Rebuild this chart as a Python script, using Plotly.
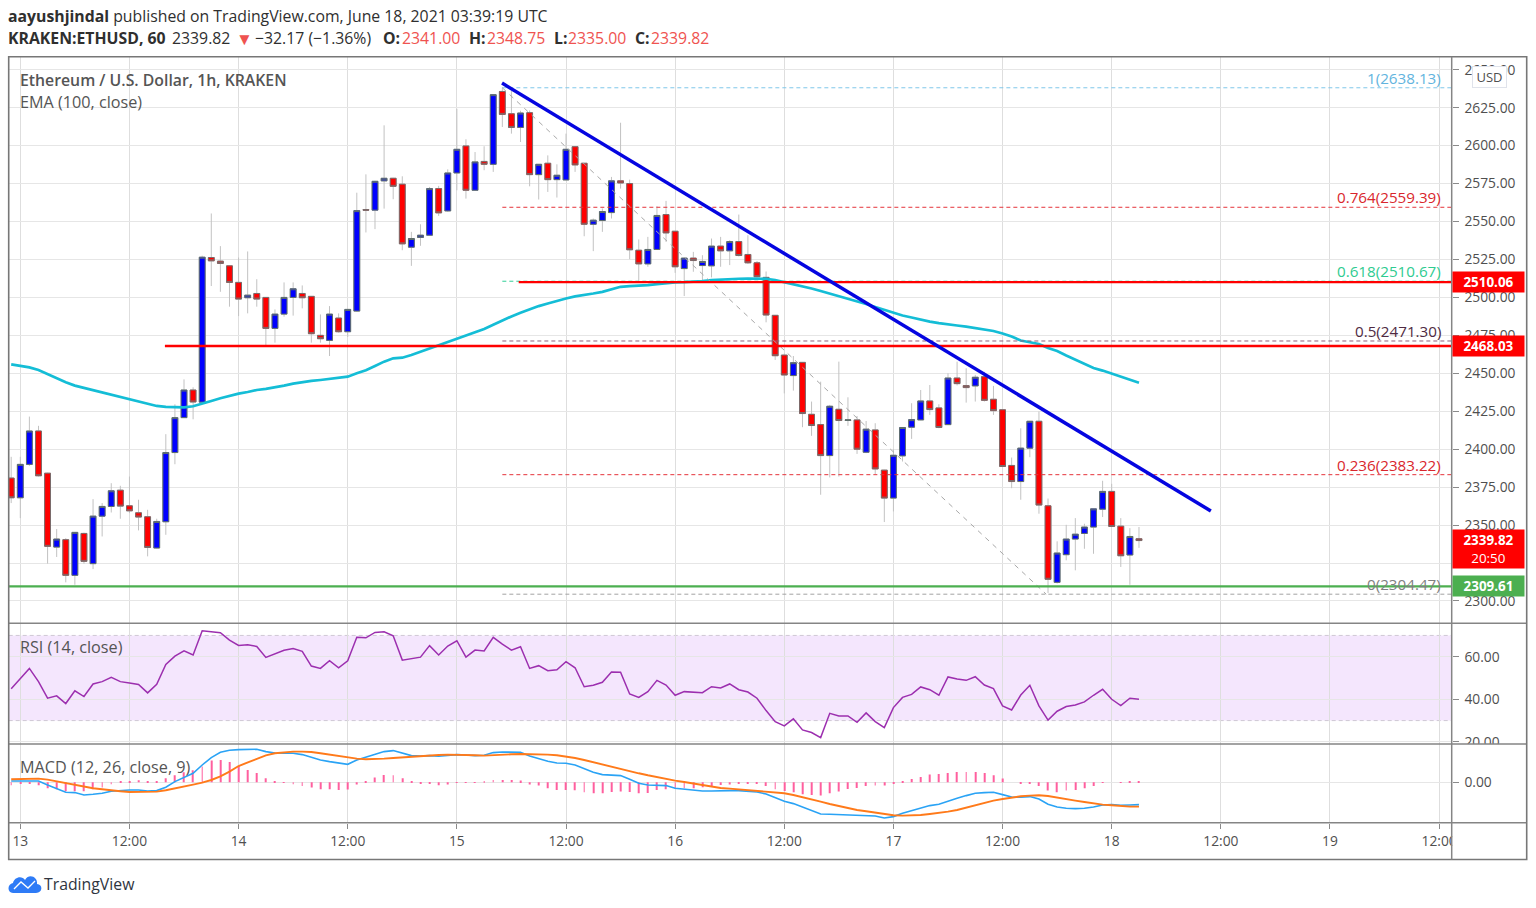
import pandas as pd
import plotly.graph_objects as go

# ---------- data (hourly, 12 Jun 23:00 -> 18 Jun 03:00) ----------
opens = [2381,2368,2390,2412,2384.2,2335.5,2340.4,2316.9,2344.5,2324.6,2355.9,2362.3,2373,2362.7,2358.1,2355.5,2334.9,2352.2,2397.8,2420.8,2439,
 2431,2526.3,2523.9,2520.8,2509.9,2499.8,2502.6,2500,2479.6,2489,2500,2502.6,2500.7,2475,2471.7,2486.4,2477.4,2491,2557.9,2557.5,2576.8,2578.5,
 2574.6,2533.1,2539.5,2541,2571.7,2557,2582,2599.8,2570.6,2589.6,2587.7,2635.7,2621,2612,2621.7,2580.9,2588.4,2577.6,2577.4,2599.3,2588.4,2548.2,2550.7,
 2555.9,2576.8,2575,2531.1,2522.1,2531.6,2554.6,2543.6,2519,2525.9,2521,2520.8,2533.8,2530.7,2536.8,2528.3,2522.8,2513.2,2488.2,2462,2448.5,2457.2,2423,
 2416.2,2395.8,2426.3,2419,2419.3,2398,2412.7,2386.2,2367.8,2395.6,2414.5,2419.3,2431.8,2427.2,2416.2,2446.9,2441.9,2441.7,2447.8,2432.9,2426,2389.3,
 2378.7,2400.7,2418.4,2362.7,2312.3,2330.5,2340.8,2344.5,2348.7,2360.5,2372.2,2349.3,2330.3,2341]
highs = [2395,2395,2421.5,2415.4,2384.5,2347.4,2341.4,2345.2,2345,2367.1,2364.5,2377.6,2375.9,2382,2366.7,2360.1,2354.2,2409.9,2429.6,2446,2440.8,
 2527.5,2555.3,2533.8,2521,2526.3,2530.3,2512,2500.2,2492.1,2509.9,2509.9,2507.9,2500.9,2488.8,2494.3,2489.5,2492.5,2569,2581.1,2576.8,2613.4,2578.8,
 2579.8,2543.2,2548.2,2572.8,2573.5,2584.4,2624.3,2604.2,2595.8,2599.6,2633.8,2638.3,2636,2623,2623.2,2587.9,2593.6,2587.7,2607.9,2599.5,2588.6,2552,2558.6,
 2579.4,2615.1,2577.6,2538.2,2539.9,2560.1,2563.6,2543.8,2526.3,2530,2527.8,2538.8,2539.9,2537.7,2554.6,2541,2524,2517.1,2488.4,2463,2461.4,2457.4,2431.4,
 2444.5,2429.2,2457.7,2434.2,2421.9,2418.6,2417.1,2386.4,2400,2414.5,2430.3,2439,2442.3,2429.6,2450,2457.7,2453.3,2449,2451,2441.7,2426.2,2394.5,
 2413.8,2418.6,2424.8,2367.5,2339.3,2350.2,2354.6,2350.9,2360.9,2379.2,2377.2,2354.6,2348,2348.75]
lows = [2364.5,2354.6,2389,2382,2324.6,2329,2312.3,2310.7,2324.6,2321,2342.5,2358.3,2354.2,2357.9,2346.5,2329.4,2334.7,2343.6,2390.1,2420.6,2419.7,
 2430,2507.5,2503.7,2493.9,2487.7,2489.5,2493.9,2468.6,2470.2,2487.3,2488,2492.8,2470.2,2470.2,2461.4,2476.8,2474,2490.5,2542.8,2545,2558.5,2564.7,
 2531.1,2520.8,2534,2540.8,2553.7,2556.4,2570.6,2565.1,2570.4,2583.8,2582.7,2612.3,2607.9,2602.4,2573.2,2564.5,2569.5,2565.8,2577.2,2582.7,2540.3,2530.5,2543.2,
 2552,2571.7,2525.2,2511,2520.2,2531.4,2536.6,2516.2,2500.9,2516.9,2511.4,2513.2,2520.2,2521.3,2527,2522,2513,2483.6,2458.8,2436.8,2438.6,2414.5,2408.8,
 2370,2381.4,2382,2415.4,2396.9,2397.4,2383.6,2352,2359,2391.9,2406.8,2419.1,2422.6,2413.8,2416,2442,2430.7,2431.4,2431.4,2422.6,2388.4,2374.3,
 2366.7,2394.7,2357.5,2305.3,2311.5,2326.8,2320.2,2334.4,2331.1,2355.3,2349,2322.4,2310.7,2335]
closes = [2368,2390,2412,2382.5,2336,2340.8,2316.9,2345.2,2326.1,2355.9,2362.3,2372.6,2362.5,2359.4,2355.3,2335.3,2352.4,2397.8,2420.8,2439,2431.1,
 2526.5,2524.1,2522.4,2509.9,2498.9,2501.5,2498.9,2479.6,2489,2500,2505.7,2499.8,2476.1,2472.8,2489,2477.4,2492.1,2557.2,2557.5,2576.5,2578.5,2573.2,
 2535.3,2538.8,2541,2571.7,2555.7,2582,2597.6,2570.6,2589.3,2587.7,2633.6,2620.6,2612,2621.5,2580.9,2587.7,2577.6,2580.5,2597.6,2587.3,2548.2,2550.9,2556.6,
 2576.8,2575.4,2531.4,2522.1,2531.6,2554,2542.5,2520.2,2525.9,2524.3,2523.7,2533.8,2530.7,2536.8,2527.6,2522.8,2513.6,2488.4,2461.6,2448.9,2457,2423.5,2415.6,
 2395.8,2428.3,2418.9,2419.3,2400,2413.2,2387,2367.8,2396,2414.3,2419.5,2431.8,2426.1,2414.3,2446.9,2443.2,2440.6,2447.4,2432.2,2425.4,2388.6,2378.7,
 2400.7,2418.4,2363.2,2314.3,2331.6,2340.8,2344,2348.7,2360.7,2372.2,2349.1,2329.8,2342.5,2339.82]
ema100 = [2455.9,2454.8,2453.9,2452.2,2449.6,2446.5,2444.1,2441.9,2440.4,2438.8,2437.5,2436.2,2434.6,2432.9,2431.4,2429.8,2428.5,2427.9,2427.6,2427.6,2428.3,
 2430.3,2431.8,2433.6,2435.3,2436.6,2437.7,2439,2439.7,2440.6,2441.9,2443.2,2444.3,2445,2445.6,2446.3,2447.1,2447.8,2450,2452,2454.8,2457.7,2459.9,
 2460.3,2462.1,2464.3,2466.2,2468.2,2470.6,2473,2475,2477,2479.2,2482,2484.9,2487.5,2489.9,2492.3,2494.3,2496,2497.8,2499.3,2500.7,2501.5,2502.6,2503.7,
 2505.2,2507,2507.5,2507.7,2508.1,2508.8,2509.4,2509.9,2510.1,2510.3,2510.8,2511.4,2511.8,2512.1,2512.3,2512.4,2512.5,2512.3,2511.4,2510.1,2508.3,2507.2,2505.9,
 2504.2,2502.6,2500.9,2499.3,2497.6,2495.7,2493.7,2491.7,2489.7,2488.1,2486.8,2485.4,2484.1,2483.1,2482.1,2481.5,2480.8,2479.8,2478.9,2477.9,2476.2,2474.2,
 2471.6,2470.6,2469.3,2466.7,2464.7,2461.7,2459.1,2456.5,2453.5,2451.8,2449.9,2447.9,2445.9,2443.8]
rsi = [45,49.8,54.5,48.3,40.5,41.6,38,44,41.3,47.2,48.3,50.3,48.3,47.7,47,43,47,56.4,60.3,62.8,60.8,
 72.2,71.7,71.3,67.8,65.3,65.6,64.8,59.7,61.3,63,63.9,62.5,55.6,54.5,58.1,54.8,58.1,69.1,68.9,71.4,71.7,69.8,
 58.4,59.2,59.8,65.2,60.8,65,67.5,59.8,63.1,62.7,69.1,65.9,63.1,64.7,54.5,55.8,53.4,53.9,57.7,54.8,45.9,46.6,48,
 52.8,52.7,42.5,40.9,43.6,48.9,46.7,41.9,43.6,43.3,43.1,45.9,45.3,47.2,44.5,43.4,40.5,34.7,29.5,27.5,30.8,25.6,24.4,
 22,33.4,32.2,32.2,29.2,33.6,29.5,26.7,36.1,40.9,42.3,45.8,44.5,41.9,50.5,49.5,48.9,50.6,46.7,45,36.9,35,
 42,46.6,36.9,30.2,34.4,36.6,37.3,38.8,41.9,44.7,40,37,40.5,40]
macd = [1.3,1.3,1.7,1.3,-2.7,-6,-10,-10.3,-12.7,-12,-11,-9,-8,-7.7,-7.7,-8.7,-8.3,-5,0.7,5,9,
 17.3,24.7,30,32,32.7,33,33,30.7,29.3,29,29,27.7,24.7,22.3,20.7,19,18,22.3,25,28.3,30.7,31.7,
 29,26.7,26.3,26.7,26,26.7,27.7,27.3,26.7,27,29.7,30.3,30.3,30,26.3,23.7,21,19.3,19,17.3,13.3,10,7.7,
 7.3,6.7,3,-1,-2.7,-2.7,-3.3,-6,-7,-7.7,-8.7,-8.7,-8.3,-8.3,-8.3,-8.7,-9.7,-11.7,-15.7,-19,-21.3,-24.7,-28,
 -31.7,-32,-32.3,-32.3,-33.3,-33.3,-33.7,-35.7,-34.3,-31,-28.3,-25.3,-23.3,-22,-18.7,-16,-13.3,-11,-10.3,-10,-12.3,-14.7,
 -15,-14.3,-16.7,-22,-24.7,-26,-26.3,-26,-24.7,-22.7,-22.3,-23,-22.7,-22.3]
signal = [3,3.3,3.7,3.7,2.7,1,-1,-2.7,-4.3,-6,-7,-8.3,-9,-9.7,-9.7,-9.7,-9.3,-8,-6.3,-4.7,-2.3,
 -0.3,2.3,6,10.7,16.3,20,23.7,27,29,30,30.7,30.7,30.3,29,27.7,26,24.7,23.7,23,23,23.7,24.3,
 25,25.7,26.3,27.3,27.3,27.7,27.7,27.3,27,26.7,27.3,27.3,28,28.3,28.3,28,27.7,27,26,24.3,22.3,20,17.7,
 15.3,13.3,11.3,9,7,5,3.3,1.7,0.3,-1.3,-3,-4.3,-5.7,-6.3,-7,-7.7,-8.3,-9.3,-10.3,-11,-12.7,-14.7,-17,
 -19.3,-21.7,-23.7,-26,-27.7,-29,-30.3,-32,-33,-33.3,-33.3,-32.7,-31.7,-30.7,-29.3,-27.7,-25.3,-23,-20.7,-18.3,-16.7,-15.3,
 -14,-13.3,-13,-13.7,-15,-16.7,-18.3,-19.7,-21.3,-22.3,-23,-24,-24.3,-24.3]
hist = [-3,-1,-1,-3,-6,-7,-9,-9,-9,-7,-5.3,-2,0.5,1,2,1,1,4,7,10,12,
 15.7,21.7,22.3,20.3,16.3,12.3,9.3,4,1,-0.3,-2,-3.7,-5.3,-7,-7,-7.7,-7.3,-2.3,1.3,4.7,7.3,7,
 4,1.3,-1,-1.3,-3,-2.3,-0.3,-0.3,0.3,1,2.3,2.3,2.3,1.7,-2.3,-3.3,-6,-7.7,-7.7,-8,-10,-11,-11,
 -9.7,-9.3,-9.7,-11,-10.7,-7.7,-7,-6.7,-6,-6,-5,-3.7,-2.7,-2.3,-1.3,-1,-1.7,-3.7,-7,-8.7,-10,-12,-12.7,
 -13.3,-11,-9.3,-6.7,-5.7,-3.7,-3.3,-3.3,-1.3,0.7,3.3,5.3,7.7,8.3,9.3,10.3,10.3,10.3,9.3,7,3.7,0,
 -1,-1,-3.7,-8.3,-10,-8.3,-7.7,-6,-3.7,-0.3,0,0.3,1,1.3]
for series in (opens, highs, lows, closes, ema100, rsi, macd, signal, hist):
    assert len(series) == 125, len(series)

fib_ratios = ["1", "0.764", "0.618", "0.5", "0.236", "0"]
fib_prices = [2638.13, 2559.39, 2510.67, 2471.30, 2383.22, 2304.47]
fib_line_colors = ["#7fc8ea", "#e5333a", "#2fcf96", "#8e5f7c", "#e5333a", "#a3a3a3"]
fib_text_colors = ["#62b4de", "#d9262c", "#2ecb90", "#4f2a42", "#d9262c", "#808080"]
fib_start = "2021-06-15 05:00"
fib_end = "2021-06-19 14:00"
diag_x = ["2021-06-15 05:00", "2021-06-17 16:48"]
diag_y = [2638.13, 2304.47]
trend_x = ["2021-06-15 04:58", "2021-06-18 10:54"]
trend_y = [2641.2, 2359.3]
support_prices = [2510.06, 2468.03, 2309.61]
support_starts = ["2021-06-15 06:48", "2021-06-13 15:54", "2021-06-12 20:00"]
support_colors = ["#ff0000", "#ff0000", "#4caf50"]
last_price = 2339.82
countdown = "20:50"
rsi_band = [30, 70]
x_tick_times = pd.date_range("2021-06-13", periods=14, freq="12h")
x_tick_text = ["13","12:00","14","12:00","15","12:00","16","12:00","17","12:00","18","12:00","19","12:00"]
times = pd.date_range("2021-06-12 23:00", periods=125, freq="1h")

# ---------- layout helpers ----------
W, H = 1536, 908
FONT = "Open Sans"
def px(v): return v / W
def py(v): return 1 - v / H
L, R = 8.7, 1451.7
T, P1, P2, P3, B = 56.7, 623.3, 744.0, 822.7, 859.5
RIGHT = 1526.7
xrange_ = ["2021-06-12 22:43:30", "2021-06-19 13:23:00"]

fig = go.Figure()

# candles: wick layer + body layer (body has a darker border than the wick)
fig.add_trace(go.Candlestick(x=times, open=opens, high=highs, low=lows, close=closes,
    increasing=dict(line=dict(color="#c2c2c2", width=1), fillcolor="#0000ff"),
    decreasing=dict(line=dict(color="#c2c2c2", width=1), fillcolor="#ff0000"),
    whiskerwidth=0, xaxis="x", yaxis="y", hoverinfo="skip"))
body_hi = [max(o, c) for o, c in zip(opens, closes)]
body_lo = [min(o, c) for o, c in zip(opens, closes)]
fig.add_trace(go.Candlestick(x=times, open=opens, high=body_hi, low=body_lo, close=closes,
    increasing=dict(line=dict(color="#5f6f6a", width=1), fillcolor="#0000ff"),
    decreasing=dict(line=dict(color="#7a6a6a", width=1), fillcolor="#ff0000"),
    whiskerwidth=0, xaxis="x", yaxis="y", hoverinfo="skip"))
# EMA
fig.add_trace(go.Scatter(x=times, y=ema100, mode="lines", line=dict(color="#14bdd6", width=2.7),
    xaxis="x", yaxis="y", hoverinfo="skip"))
# fib levels
for price, col in zip(fib_prices, fib_line_colors):
    fig.add_trace(go.Scatter(x=[fib_start, fib_end], y=[price, price], mode="lines",
        line=dict(color=col, width=1, dash="4px,3px"), xaxis="x", yaxis="y", hoverinfo="skip"))
fig.add_trace(go.Scatter(x=diag_x, y=diag_y, mode="lines",
    line=dict(color="#a8a8a8", width=1, dash="5px,5px"), xaxis="x", yaxis="y", hoverinfo="skip"))
# horizontal supports / resistances
for price, start, col in zip(support_prices, support_starts, support_colors):
    fig.add_trace(go.Scatter(x=[start, fib_end], y=[price, price], mode="lines",
        line=dict(color=col, width=2.4), xaxis="x", yaxis="y", hoverinfo="skip"))
# trend line
fig.add_trace(go.Scatter(x=trend_x, y=trend_y, mode="lines", line=dict(color="#0505e0", width=3.5),
    xaxis="x", yaxis="y", hoverinfo="skip"))
# RSI
fig.add_trace(go.Scatter(x=times, y=rsi, mode="lines", line=dict(color="#9c2faf", width=1.5),
    xaxis="x2", yaxis="y2", hoverinfo="skip"))
# MACD
fig.add_trace(go.Bar(x=times, y=hist, width=350000, marker=dict(color="#ff5f9e", line=dict(width=0)),
    xaxis="x3", yaxis="y3", hoverinfo="skip"))
fig.add_trace(go.Scatter(x=times, y=macd, mode="lines", line=dict(color="#2aa3f5", width=1.6),
    xaxis="x3", yaxis="y3", hoverinfo="skip"))
fig.add_trace(go.Scatter(x=times, y=signal, mode="lines", line=dict(color="#ff7a1a", width=1.9),
    xaxis="x3", yaxis="y3", hoverinfo="skip"))

GRID = "#e6e6e6"
VGRID = "#dedede"
tick_font = dict(family=FONT, size=13.8, color="#4f4f4f")
def xaxis_common(**kw):
    d = dict(type="date", range=xrange_, domain=[px(L), px(R)], tickmode="array",
             tickvals=list(x_tick_times), ticktext=x_tick_text, showgrid=True, gridcolor=VGRID,
             gridwidth=1, zeroline=False, showline=False, rangeslider=dict(visible=False),
             fixedrange=True, automargin=False)
    d.update(kw)
    return d
def yaxis_common(**kw):
    d = dict(side="right", showgrid=True, gridcolor=GRID, gridwidth=1, zeroline=False, showline=False,
             ticks="outside", ticklen=6, tickcolor="#8a8a8a", tickwidth=1, tickfont=tick_font,
             ticklabelstandoff=3, fixedrange=True, automargin=False)
    d.update(kw)
    return d

shapes = []
def hline_shape(y, x0=L, x1=RIGHT, col="#858585", w=1.5):
    shapes.append(dict(type="line", xref="paper", yref="paper", x0=px(x0), x1=px(x1), y0=py(y), y1=py(y),
                       line=dict(color=col, width=w), layer="above"))
# RSI band
shapes.append(dict(type="rect", xref="paper", yref="y2", x0=px(L), x1=px(R), y0=rsi_band[0], y1=rsi_band[1],
                   fillcolor="#f4e6fd", line=dict(width=0), layer="below"))
for lvl in rsi_band:
    shapes.append(dict(type="line", xref="paper", yref="y2", x0=px(L), x1=px(R), y0=lvl, y1=lvl,
                       line=dict(color="#cfc8d4", width=1, dash="4px,3px"), layer="below"))
# masks hiding what the reference clips at pane edges
shapes.append(dict(type="rect", xref="paper", yref="paper", x0=px(R + 0.5), x1=px(RIGHT), y0=py(B), y1=py(P3 + 1),
                   fillcolor="white", line=dict(width=0), layer="above"))
shapes.append(dict(type="rect", xref="paper", yref="paper", x0=px(R + 0.5), x1=px(RIGHT), y0=py(P2 + 20), y1=py(P2),
                   fillcolor="white", line=dict(width=0), layer="above"))
# frame and separators
for y in (P1, P2, P3):
    hline_shape(y)
shapes.append(dict(type="rect", xref="paper", yref="paper", x0=px(L), x1=px(RIGHT), y0=py(B), y1=py(T),
                   line=dict(color="#777777", width=1.6), layer="above"))
shapes.append(dict(type="line", xref="paper", yref="paper", x0=px(R), x1=px(R), y0=py(B), y1=py(T),
                   line=dict(color="#858585", width=1.5), layer="above"))
# TradingView cloud logo
def P(x, y): return f"{px(x):.5f},{py(y):.5f}"
cloud = ("M " + P(13, 893) + " C " + P(7, 893) + " " + P(7, 884) + " " + P(13, 883) +
         " C " + P(14, 877) + " " + P(22, 875) + " " + P(25, 880) +
         " C " + P(29, 873) + " " + P(38, 877) + " " + P(37, 884) +
         " C " + P(43, 884) + " " + P(43, 893) + " " + P(36, 893) + " Z")
shapes.append(dict(type="path", xref="paper", yref="paper", path=cloud, fillcolor="#2e7bf6", line=dict(width=0), layer="above"))
shapes.append(dict(type="path", xref="paper", yref="paper",
                   path="M " + P(14, 889) + " L " + P(21, 882) + " L " + P(28, 888) + " L " + P(35, 881),
                   line=dict(color="white", width=1.3), layer="above"))

annotations = []
def text(x, y, s, size=14, color="#3b3b3b", xanchor="left", family=FONT, weight=None, **kw):
    f = dict(family=family, size=size, color=color)
    if weight:
        f["weight"] = weight
    d = dict(xref="paper", yref="paper", x=px(x), y=py(y), text=s, showarrow=False, xanchor=xanchor, yanchor="middle",
             font=f, align="left", borderpad=0, borderwidth=0)
    d.update(kw)
    annotations.append(d)
RD = "#ef5350"
HD = "#2f2f2f"
HS = 15.8
text(8, 15.5, "<b>aayushjindal</b> published on TradingView.com, June 18, 2021 03:39:19 UTC", size=HS, color=HD)
line2_y = 38.5
text(8, line2_y, "<b>KRAKEN:ETHUSD, 60</b>", size=HS, color=HD)
text(172, line2_y, f"{last_price}", size=HS, color=HD)
text(236, line2_y, "▼", size=17, color=RD)
text(255, line2_y, "−32.17 (−1.36%)", size=HS, color=HD)
for lx, lab, vx, val in [(383, "O:", 402, "2341.00"), (469, "H:", 487, "2348.75"),
                         (553.6, "L:", 568, "2335.00"), (635, "C:", 651, str(last_price))]:
    text(lx, line2_y, f"<b>{lab}</b>", size=HS, color=HD)
    text(vx, line2_y, val, size=HS, color=RD)
text(20, 79.5, "Ethereum / U.S. Dollar, 1h, KRAKEN", size=15.8, color="#555555", weight=600)
text(20, 101.5, "EMA (100, close)", size=16.2, color="#555555")
text(20, 646.5, "RSI (14, close)", size=16.2, color="#555555")
text(20, 767, "MACD (12, 26, close, 9)", size=16.2, color="#555555")
text(44, 884, "TradingView", size=15.8, color="#2f3540")
# fib labels
for r, price, col in zip(fib_ratios, fib_prices, fib_text_colors):
    annotations.append(dict(xref="paper", yref="y", x=px(1442), y=price, text=f"{r}({price:.2f})", showarrow=False,
                            xanchor="right", yanchor="bottom", yshift=-1, font=dict(family=FONT, size=15.2, color=col),
                            borderpad=0))
# price-axis tags
for price, col in zip(support_prices, ["#ff0000", "#ff0000", "#4caf50"]):
    annotations.append(dict(xref="paper", yref="y", x=px(R), y=price, text=f"<b>{price:.2f}</b>", showarrow=False,
                            xanchor="left", yanchor="middle", width=71, height=20, bgcolor=col, align="center",
                            font=dict(family=FONT, size=13.4, color="white"), borderpad=0))
annotations.append(dict(xref="paper", yref="y", x=px(R), y=last_price, text=f"<b>{last_price:.2f}</b><br>{countdown}",
                        showarrow=False, xanchor="left", yanchor="middle", yshift=-8, width=71, height=38,
                        bgcolor="#ff0000", align="center", font=dict(family=FONT, size=13.4, color="white"), borderpad=0))
annotations.append(dict(xref="paper", yref="paper", x=px(1489.5), y=py(77), text="USD", showarrow=False, xanchor="center",
                        yanchor="middle", width=33, height=20, bgcolor="white", bordercolor="#e0e3eb", borderwidth=1,
                        font=dict(family=FONT, size=13, color="#4f4f4f"), borderpad=0))

fig.update_layout(
    width=W, height=H, margin=dict(l=0, r=0, t=0, b=0), paper_bgcolor="white", plot_bgcolor="white",
    showlegend=False, hovermode=False, barmode="overlay", dragmode=False, boxgap=0.08,
    xaxis=xaxis_common(anchor="y", showticklabels=False, ticks=""),
    xaxis2=xaxis_common(anchor="y2", showticklabels=False, ticks=""),
    xaxis3=xaxis_common(anchor="y3", ticks="outside", ticklen=5, tickcolor="#8a8a8a", tickfont=tick_font, ticklabelstandoff=1),
    yaxis=yaxis_common(domain=[py(P1), py(T)], range=[2285.3, 2658.6], anchor="x", tick0=2300, dtick=25, tickformat=".2f"),
    yaxis2=yaxis_common(domain=[py(P2), py(P1)], range=[19.0, 75.7], anchor="x2", tickmode="array",
                        tickvals=[20, 40, 60], ticktext=["20.00", "40.00", "60.00"]),
    yaxis3=yaxis_common(domain=[py(P3), py(P2)], range=[-40.4, 38.3], anchor="x3", tickmode="array",
                        tickvals=[0], ticktext=["0.00"]),
    shapes=shapes, annotations=annotations,
)
fig.write_html("out.html", config=dict(displayModeBar=False, responsive=False),
               post_script="document.body.style.margin='0';document.body.style.overflow='hidden';")
